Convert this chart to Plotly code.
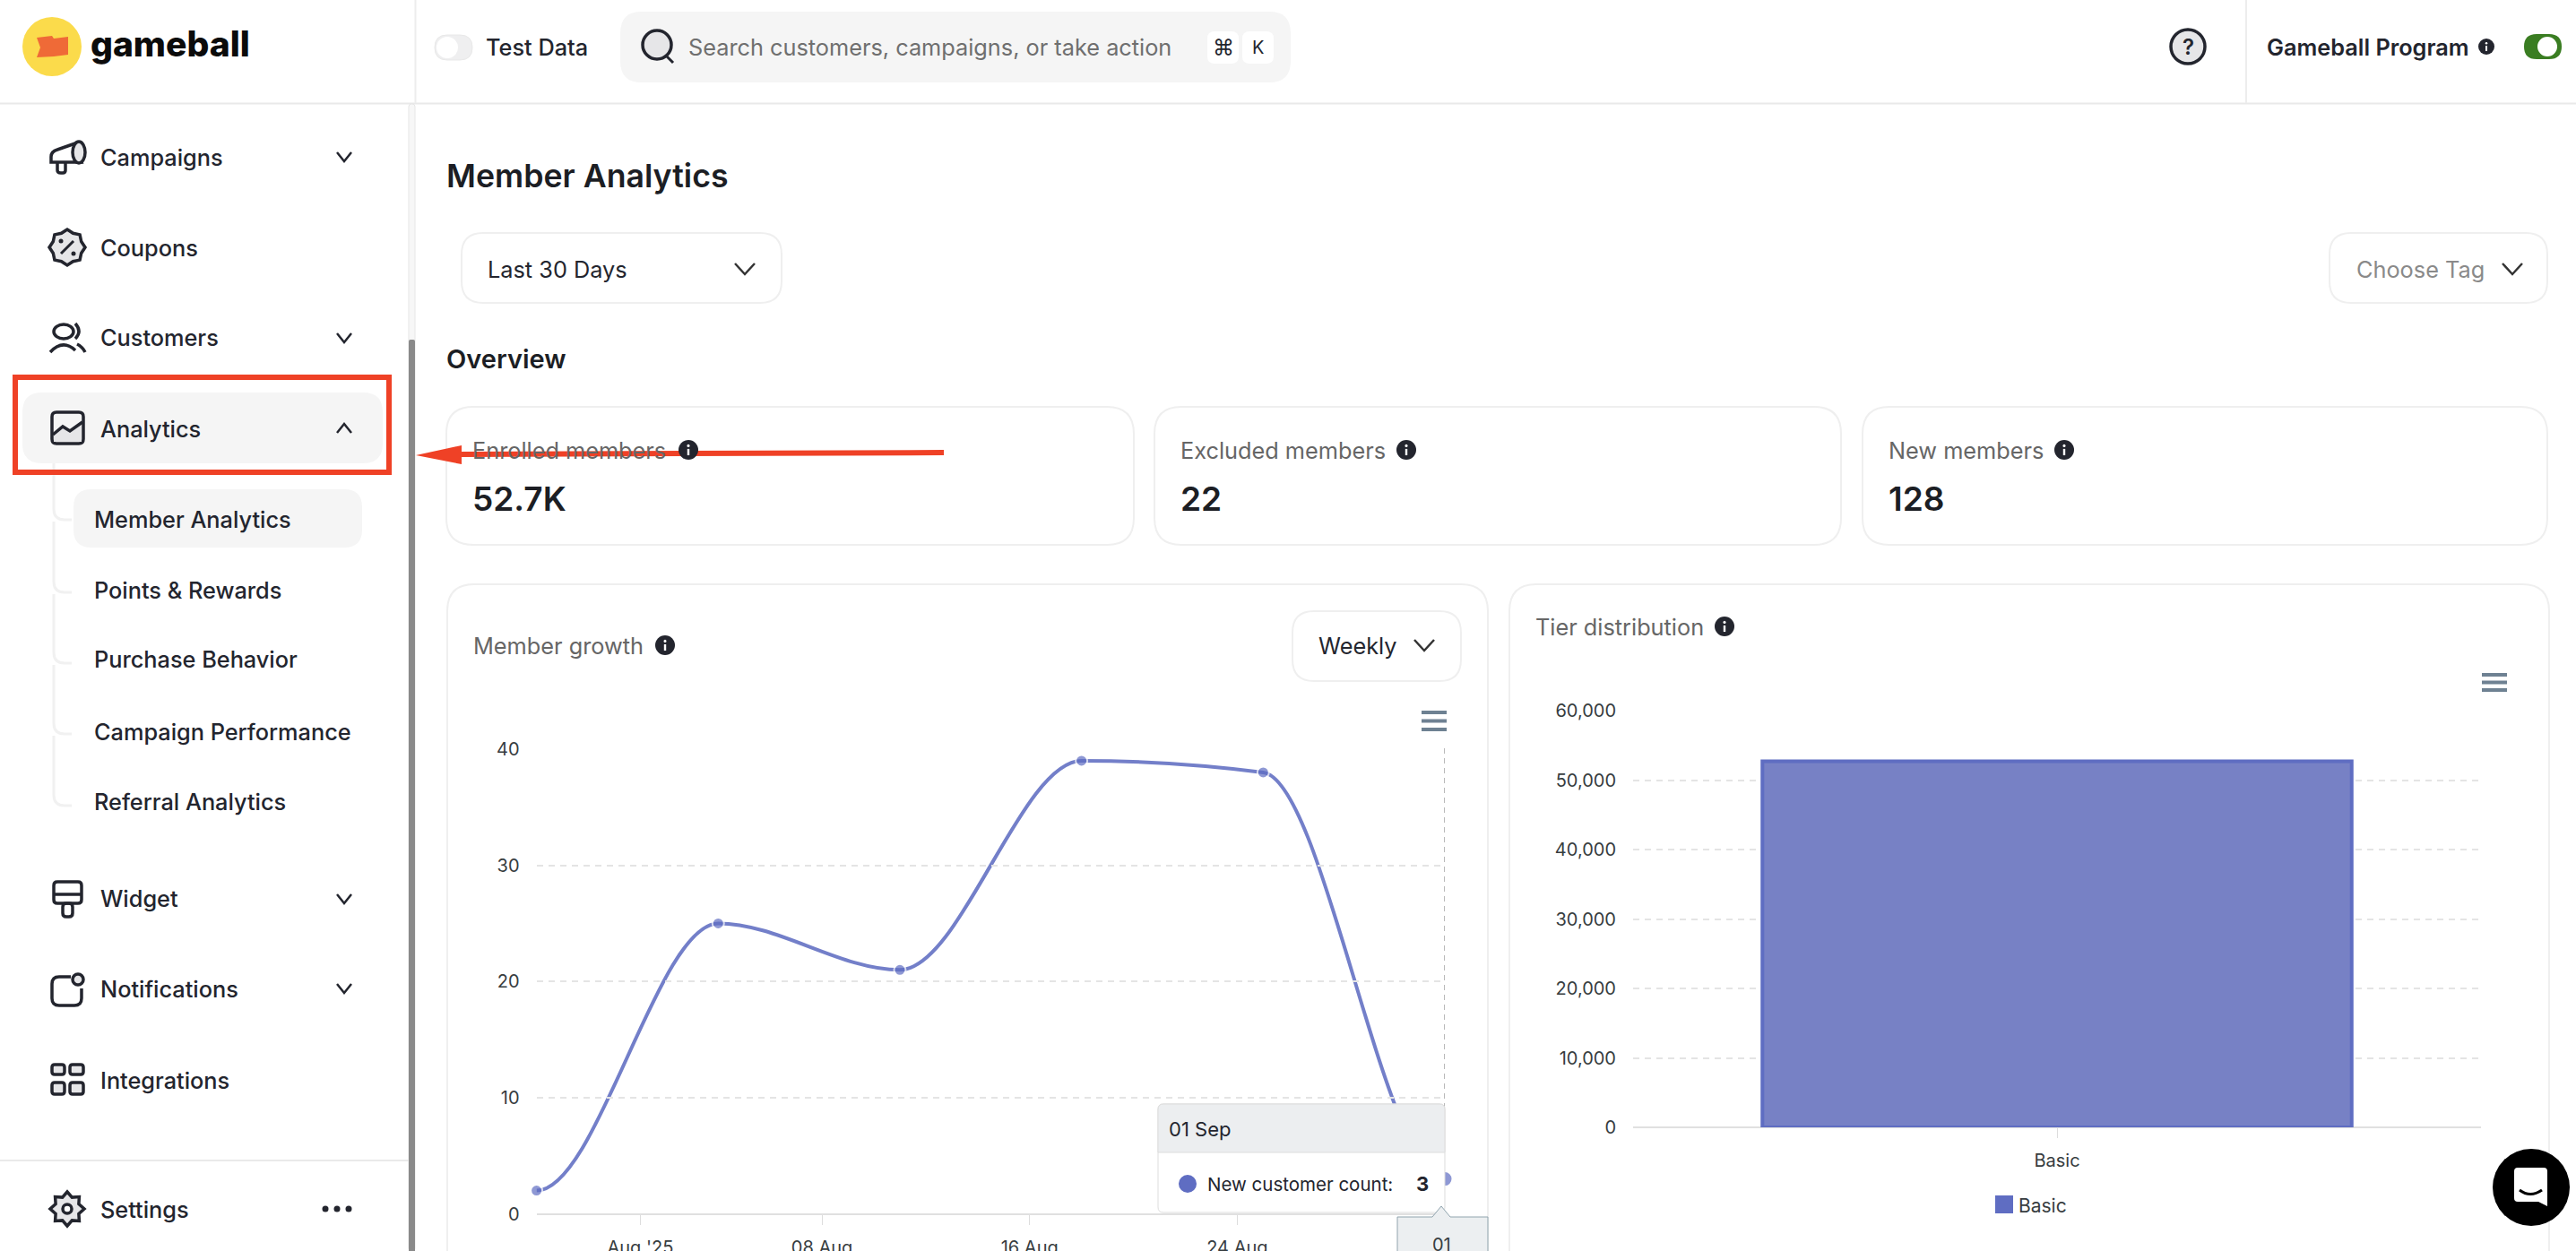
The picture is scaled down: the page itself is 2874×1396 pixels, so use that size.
import math
import re
from datetime import datetime, timedelta

import plotly.graph_objects as go

# chart values
growth_dates = ["2025-07-28", "2025-08-04", "2025-08-11", "2025-08-18", "2025-08-25", "2025-09-01"]
growth_counts = [2, 25, 21, 39, 38, 3]
growth_tick_dates = ["2025-08-01", "2025-08-08", "2025-08-16", "2025-08-24"]
growth_tick_labels = ["Aug '25", "08 Aug", "16 Aug", "24 Aug"]
growth_y_ticks = [0, 10, 20, 30, 40]

tier_names = ["Basic"]
tier_counts = [52700]
tier_y_ticks = [0, 10000, 20000, 30000, 40000, 50000, 60000]

# page texts
nav_main = ["Campaigns", "Coupons", "Customers", "Analytics", "Widget", "Notifications", "Integrations", "Settings"]
nav_sub = ["Member Analytics", "Points & Rewards", "Purchase Behavior", "Campaign Performance", "Referral Analytics"]
card_titles = ["Enrolled members", "Excluded members", "New members"]
card_values = ["52.7K", "22", "128"]

W, H = 2874, 1396
INK = "#23252E"
EDGE = "#EFEFEF"
RED = "#EF4126"
BLUE = "#5F6DC2"
FONT = "Inter"
BODY = 25.3

shapes = []
notes = []


def fx(x):
    return x / W


def fy(y):
    return 1 - y / H


def to_paper(path):
    # path is written in page pixels, shapes want paper fractions
    out, is_x = [], True
    for tok in re.findall(r"[MLQCZ]|-?\d+\.?\d*", path):
        if tok in "MLQCZ":
            out.append(tok)
            is_x = True
        else:
            out.append(f"{fx(float(tok)):.5f}" if is_x else f"{fy(float(tok)):.5f}")
            is_x = not is_x
    return " ".join(out)


def path(d, fill="rgba(0,0,0,0)", line=INK, width=3.5, layer="above"):
    shapes.append(dict(type="path", path=to_paper(d), xref="paper", yref="paper", layer=layer,
                       fillcolor=fill, line=dict(color=line, width=width)))


def rrect(x0, y0, x1, y1, r, fill="rgba(0,0,0,0)", line=INK, width=3.5, layer="above"):
    d = (f"M{x0 + r} {y0} L{x1 - r} {y0} Q{x1} {y0} {x1} {y0 + r} L{x1} {y1 - r} Q{x1} {y1} {x1 - r} {y1} "
         f"L{x0 + r} {y1} Q{x0} {y1} {x0} {y1 - r} L{x0} {y0 + r} Q{x0} {y0} {x0 + r} {y0} Z")
    path(d, fill, line, width, layer)


def oval(cx, cy, rx, ry=None, fill="rgba(0,0,0,0)", line=INK, width=3.5):
    ry = rx if ry is None else ry
    shapes.append(dict(type="circle", xref="paper", yref="paper", layer="above",
                       x0=fx(cx - rx), x1=fx(cx + rx), y0=fy(cy + ry), y1=fy(cy - ry),
                       fillcolor=fill, line=dict(color=line, width=width)))


def star(cx, cy, r_out, r_in, n, fill):
    pts = []
    for k in range(2 * n):
        r = r_out if k % 2 == 0 else r_in
        a = math.pi * k / n
        pts.append(f"{cx + r * math.cos(a):.1f} {cy + r * math.sin(a):.1f}")
    path("M" + " L".join(pts) + " Z", fill=fill)


def txt(x, y, s, size=BODY, color=INK, weight=500, anchor="left"):
    notes.append(dict(x=fx(x), y=fy(y), xref="paper", yref="paper", text=s, showarrow=False,
                      xanchor=anchor, yanchor="middle", borderpad=0, borderwidth=0,
                      font=dict(family=FONT, size=size, color=color, weight=weight)))


def chevron(cx, cy, hw=8, hh=5, up=False, color=INK, width=2.5):
    tip = cy - hh if up else cy + hh
    side = cy + hh if up else cy - hh
    path(f"M{cx - hw} {side} L{cx} {tip} L{cx + hw} {side}", line=color, width=width)


def info(cx, cy, r=11):
    oval(cx, cy, r, fill=INK, line=INK, width=0)
    oval(cx, cy - r * 0.42, r * 0.14, fill="white", line="white", width=0)
    path(f"M{cx} {cy - r * 0.1} L{cx} {cy + r * 0.55}", line="white", width=max(2, r * 0.22))


def burger(x0, x1, ys):
    for y in ys:
        path(f"M{x0} {y} L{x1} {y}", line="#6E8192", width=4)


def monotone_path(dates, values):
    # the original line is a monotone cubic between the weekly values, flat at both ends
    days = [datetime.fromisoformat(d) for d in dates]
    step = [(b - a).days for a, b in zip(days, days[1:])]
    slope = [(values[i + 1] - values[i]) / step[i] for i in range(len(step))]
    tang = [0.0] * len(values)
    for i in range(1, len(values) - 1):
        s0, s1 = slope[i - 1], slope[i]
        if s0 * s1 > 0:
            tang[i] = 2 * s0 * s1 / (s0 + s1)

    def stamp(t):
        return t.strftime("%Y-%m-%d_%H:%M:%S")

    d = f"M{stamp(days[0])},{values[0]}"
    for i, h in enumerate(step):
        third = timedelta(days=h / 3)
        d += (f" C{stamp(days[i] + third)},{values[i] + tang[i] * h / 3:.3f}"
              f" {stamp(days[i + 1] - third)},{values[i + 1] - tang[i + 1] * h / 3:.3f}"
              f" {stamp(days[i + 1])},{values[i + 1]}")
    return d


# header and sidebar frame
path("M0 115.5 L2874 115.5", line="#E9E9E9", width=2, layer="below")
path("M463.5 0 L463.5 115", line="#EDEDED", width=2, layer="below")
path("M2506 0 L2506 115", line="#EDEDED", width=2, layer="below")
rrect(456, 116, 463, 1396, 3, fill="#F7F7F7", line="#E6E6E6", width=1, layer="below")
rrect(456, 379, 463, 1400, 2, fill="#8A8A8A", line="#8A8A8A", width=0, layer="below")
path("M0 1295 L456 1295", line="#EAEAEA", width=2, layer="below")

# logo
oval(58, 52, 33, fill="#FBDB4B", line="#FBDB4B", width=0)
path("M41 42 L58 40 L60 43 L76 41 L76 61 L60 63 L41 64 L45 53 Z", fill="#EF6A37", line="#EF6A37", width=0)
txt(101, 49, "gameball", size=39, color="#0B0B0B", weight=800)

# nav
main_y = [175, 276, 377, 478, 1003, 1103, 1205, 1349]
sub_y = [579, 658, 736, 816, 894]
rrect(25, 438, 427, 517, 22, fill="#F5F5F5", line="#F5F5F5", width=0, layer="below")
rrect(82, 546, 404, 611, 20, fill="#F5F5F5", line="#F5F5F5", width=0, layer="below")
for label, y in zip(nav_main, main_y):
    txt(112, y, label, weight=500)
for label, y in zip(nav_sub, sub_y):
    txt(105, y, label, weight=500)
for i, y in enumerate([580, 661, 740, 819, 899]):
    top = [517, 582, 663, 742, 821][i]
    path(f"M60 {top} L60 {y - 12} Q60 {y} 72 {y} L80 {y}", line="#F1F1F1", width=3, layer="below")
for y in [175, 377, 1003, 1103]:
    chevron(384, y)
chevron(384, 478, up=True)
for x in [363, 376, 389]:
    oval(x, 1349, 3.5, fill=INK, width=0)

GREY = "#E6E6E8"
# campaigns icon
path("M84 160 L64 167 Q57 169 57 175 L57 181 L91 181 Z", line=INK)
path("M64 181 L64 190 Q64 193 68 193 L70 193 Q73 193 73 190 L73 181", line=INK)
oval(88, 170, 7, 12, fill=GREY)
# coupons icon
star(75, 276, 20, 17, 8, GREY)
path("M68 283 L82 269", line=INK, width=3)
oval(68, 269, 2.5, fill=INK, width=0)
oval(82, 283, 2.5, fill=INK, width=0)
# customers icon
oval(71, 370, 11, 8)
path("M56 393 Q70 378 84 391", line=INK)
path("M84 361 Q92 370 84 378", line=INK)
path("M86 384 Q92 387 95 393", line=INK)
# analytics icon
rrect(58, 460, 93, 495, 5, fill="rgba(0,0,0,0)")
path("M60 485 L70 476 L78 481 L91 471 L91 493 L60 493 Z", fill=GREY, line=GREY, width=0)
path("M59 485 L70 476 L78 481 L92 471", line=INK)
# widget icon
rrect(60, 984, 91, 1008, 4)
path("M60 998 L91 998", line=INK)
rrect(70, 1008, 81, 1023, 4)
# notifications icon
path("M79 1090 L66 1090 Q58 1090 58 1098 L58 1114 Q58 1122 66 1122 L83 1122 Q91 1122 91 1114 L91 1103", line=INK)
oval(87, 1093, 6, fill=GREY)
# integrations icon
for x0, x1 in [(58, 72), (78, 93)]:
    for y0, y1 in [(1188, 1199), (1208, 1221)]:
        rrect(x0, y0, x1, y1, 3, fill=GREY)
# settings icon
star(75, 1349, 19, 14, 8, GREY)
oval(75, 1349, 5, fill="white")

# red callout
rrect(17, 421, 434, 527, 0, line=RED, width=6)
path("M515 507 L1053 505", line=RED, width=6)
path("M464 508 L515 497 L515 518 Z", fill=RED, line=RED, width=0)

# top bar
rrect(485, 39, 527, 67, 14, fill="#EFEFF0", line="#E8E8E8", width=1)
oval(499, 53, 12, fill="white", line="white", width=0)
txt(542, 53, "Test Data", weight=500)
rrect(692, 13, 1440, 92, 24, fill="#F5F5F5", line="#F5F5F5", width=0)
oval(733, 50, 16, fill=GREY)
path("M743 62 L751 70", line=INK, width=3)
txt(768, 53, "Search customers, campaigns, or take action", color="#6F6F6F", weight=400)
rrect(1347, 35, 1382, 71, 8, fill="white", line="white", width=0)
rrect(1386, 35, 1421, 71, 8, fill="white", line="white", width=0)
txt(1364.5, 53, "⌘", size=24, anchor="center", weight=400)
txt(1403.5, 53, "K", size=20, anchor="center", weight=400)
oval(2441, 52, 19, fill=GREY)
txt(2441, 52, "?", size=24, anchor="center", weight=600)
txt(2529, 53, "Gameball Program", weight=600)
info(2774, 52, 9)
rrect(2816, 38, 2858, 66, 14, fill="#3A7D22", line="#3A7D22", width=0)
oval(2842, 52, 11, fill="white", line="white", width=0)

# page heading and filters
txt(498, 196, "Member Analytics", size=35.7, color="#1C1E24", weight=600)
rrect(515, 260, 872, 338, 24, line=EDGE, width=2, layer="below")
txt(544, 300, "Last 30 Days", weight=400)
chevron(831, 300, 11, 6, color="#333333")
rrect(2599, 260, 2842, 338, 24, line=EDGE, width=2, layer="below")
txt(2629, 300, "Choose Tag", color="#8A8A8A", weight=400)
chevron(2803, 300, 11, 6, color="#333333")
txt(498, 400, "Overview", size=29, color="#1C1E24", weight=600)

# overview cards
card_x = [(498, 1265), (1288, 2054), (2078, 2842)]
info_x = [768, 1569, 2303]
for (x0, x1), title, value, ix in zip(card_x, card_titles, card_values, info_x):
    rrect(x0, 454, x1, 608, 30, line=EDGE, width=2, layer="below")
    txt(x0 + 29, 502, title, color="#666666", weight=400)
    txt(x0 + 29, 556, value, size=37, color="#1C1E24", weight=600)
    info(ix, 502)

# chart cards, their bottoms run off the page
rrect(499, 652, 1660, 1440, 30, line=EDGE, width=2, layer="below")
rrect(1684, 652, 2844, 1440, 30, line=EDGE, width=2, layer="below")
txt(528, 720, "Member growth", color="#666666", weight=400)
info(742, 720)
rrect(1442, 682, 1630, 760, 24, line=EDGE, width=2, layer="below")
txt(1471, 720, "Weekly", weight=400)
chevron(1589, 720, 11, 6, color="#333333")
burger(1586, 1614, [795, 804.5, 814])
txt(1713, 699, "Tier distribution", color="#666666", weight=400)
info(1924, 699)
burger(2769, 2797, [753, 761.5, 770])

fig = go.Figure()
fig.add_trace(go.Scatter(
    x=growth_dates, y=growth_counts, mode="markers", xaxis="x", yaxis="y", showlegend=False,
    cliponaxis=False,
    marker=dict(color=BLUE, size=[13] * (len(growth_counts) - 1) + [17], line=dict(color="white", width=2)),
))
fig.add_trace(go.Bar(
    x=tier_names, y=tier_counts, xaxis="x2", yaxis="y2", width=0.695, showlegend=False,
    marker=dict(color="#7781C5", line=dict(color=BLUE, width=4)),
))

# the smoothed line, in data coordinates of the growth axes
shapes.append(dict(type="path", path=monotone_path(growth_dates, growth_counts), xref="x", yref="y", layer="below",
                   line=dict(color="#737FC9", width=4)))

# crosshair on the hovered week
shapes.append(dict(type="line", xref="x", yref="paper", x0=growth_dates[-1], x1=growth_dates[-1],
                   y0=fy(835), y1=fy(1358), line=dict(color="#B9B9B9", width=2, dash="6px,5px"), layer="above"))

# hover tooltip
rrect(1292, 1232, 1612, 1353, 6, fill="white", line="#DDDDDD", width=1)
path("M1292 1286 L1292 1238 Q1292 1232 1298 1232 L1606 1232 Q1612 1232 1612 1238 L1612 1286 Z",
     fill="#ECEEF0", line="#DDDDDD", width=1)
txt(1304, 1260, "01 Sep", size=22, weight=400)
oval(1325, 1321, 10, fill=BLUE, line=BLUE, width=0)
txt(1347, 1321, "New customer count:", size=20.5, weight=400)
txt(1587, 1321, "3", size=22, weight=700, anchor="center")
path("M1559 1358 L1598 1358 L1608 1346 L1618 1358 L1660 1358 L1660 1400 L1559 1400 Z",
     fill="#ECEFF1", line="#90A4AE", width=1)
txt(1608, 1389, "01", size=20, color="#373D3F", weight=400, anchor="center")

# bar legend
rrect(2226, 1334, 2246, 1354, 0, fill=BLUE, line=BLUE, width=0)
txt(2252, 1345, "Basic", size=21, color="#373D3F", weight=400)

# chat bubble
oval(2824, 1325, 43, fill="black", line="black", width=0)
path("M2809 1303 L2838 1303 Q2842 1303 2842 1307 L2842 1346 L2832 1341 L2809 1341 Q2805 1341 2805 1337 "
     "L2805 1307 Q2805 1303 2809 1303 Z", fill="white", line="white", width=0)
path("M2811 1328 Q2823 1337 2836 1328", line="black", width=3)

grid_dash = "7px,6px"
tick_font = dict(family=FONT, size=20, color="#373D3F")
fig.update_layout(
    width=W, height=H, margin=dict(l=0, r=0, t=0, b=0), autosize=False,
    paper_bgcolor="white", plot_bgcolor="rgba(0,0,0,0)", showlegend=False, bargap=0.3,
    shapes=shapes, annotations=notes,
    xaxis=dict(
        domain=[fx(598.6), fx(1612)], anchor="y", type="date", range=[growth_dates[0], growth_dates[-1]],
        tickmode="array", tickvals=growth_tick_dates, ticktext=growth_tick_labels, automargin=False,
        ticks="outside", ticklen=11, tickwidth=1, tickcolor="#DDDDDD", tickfont=tick_font, ticklabelstandoff=8,
        showgrid=False, showline=False, zeroline=False,
    ),
    yaxis=dict(
        domain=[fy(1354.5), fy(836)], anchor="x", range=[0, 40], automargin=False,
        tickmode="array", tickvals=growth_y_ticks, ticklabelstandoff=18, tickfont=tick_font,
        gridcolor="#E4E4E4", griddash=grid_dash, gridwidth=2, zeroline=True, zerolinecolor="#E0E0E0", zerolinewidth=2,
    ),
    xaxis2=dict(
        domain=[fx(1822), fx(2768)], anchor="y2", type="category", automargin=False,
        ticks="outside", ticklen=11, tickwidth=1, tickcolor="#DDDDDD", tickfont=tick_font, ticklabelstandoff=8,
        showgrid=False, showline=False, zeroline=False,
    ),
    yaxis2=dict(
        domain=[fy(1258), fy(793)], anchor="x2", range=[0, 60000], automargin=False,
        tickmode="array", tickvals=tier_y_ticks, tickformat=",", ticklabelstandoff=18, tickfont=tick_font,
        gridcolor="#E4E4E4", griddash=grid_dash, gridwidth=2, zeroline=True, zerolinecolor="#E0E0E0", zerolinewidth=2,
    ),
)

fig.write_html("out.html", config=dict(displayModeBar=False),
               post_script="document.body.style.margin='0';document.documentElement.style.overflow='hidden';")
